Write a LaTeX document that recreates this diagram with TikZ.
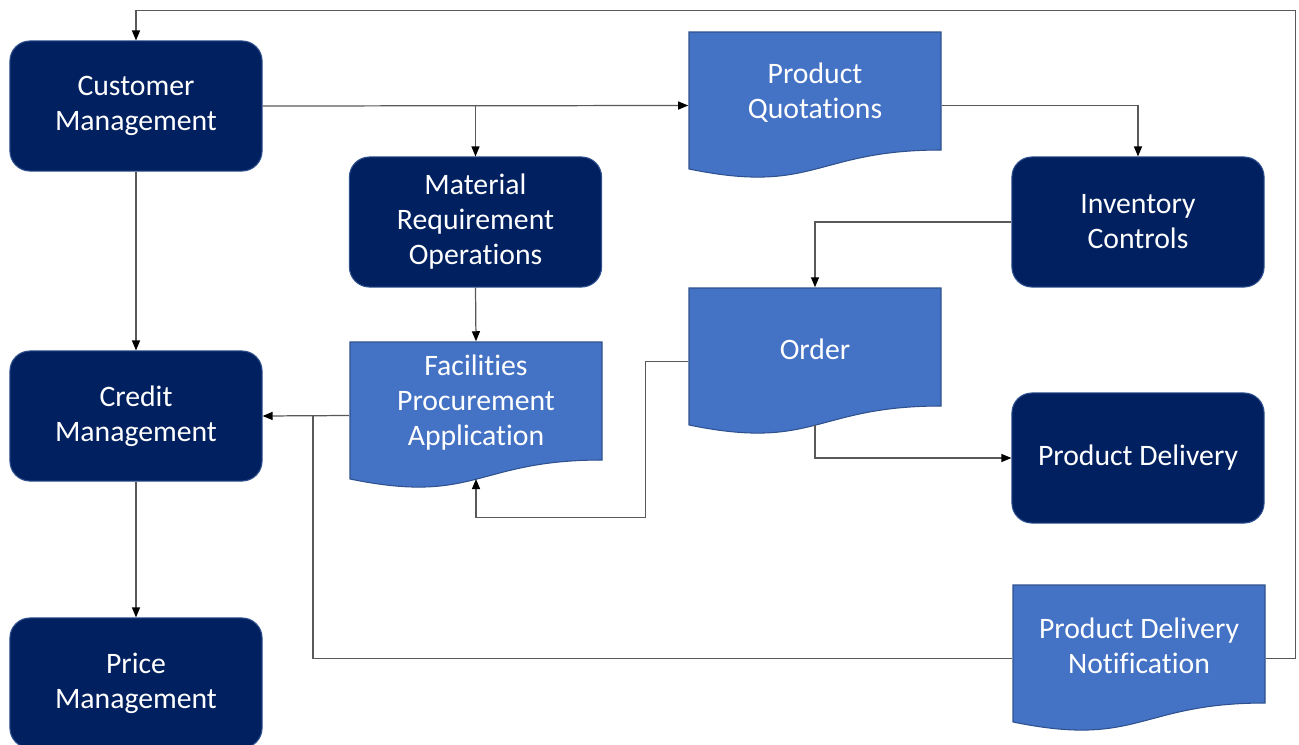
\documentclass[tikz,border=0pt]{standalone}
\usepackage{fontspec}
\setmainfont{Carlito}[Ligatures=NoCommon]
\usetikzlibrary{arrows.meta}

\definecolor{navy}{HTML}{002060}
\definecolor{docblue}{HTML}{4472C4}
\definecolor{edgeblue}{HTML}{2F528F}

\tikzset{
    boxfont/.style={text=white, align=center, font=\fontsize{8.45}{9.96}\selectfont},
    process/.style={boxfont, draw=edgeblue, fill=navy, line width=0.3pt, rounded corners=0.2cm,
        minimum width=2.52cm, minimum height=1.3cm, inner sep=0pt},
    docshape/.style={fill=docblue, draw=edgeblue, line width=0.3pt},
    docframe/.style={minimum width=2.52cm, minimum height=1.47cm, inner sep=0pt},
    wire/.style={draw=black!65, line width=0.35pt},
    link/.style={wire, -{Triangle[length=0.1cm, width=0.08cm, color=black]}}
}

% document symbol: name, top-left corner, text
\newcommand{\docnode}[3]{%
    \begin{scope}[shift={#2}]
        \path[docshape] (0,0) -- (252,0) -- (252,118)
            .. controls (126,118) and (126,163) .. (0,137) -- cycle;
        \node[docframe] (#1) at (126,73.5) {};
        \node[boxfont] (#1-t) at (126,61) {#3};
        \coordinate (#1-b) at (126,137);
    \end{scope}}

\begin{document}
\begin{tikzpicture}[x=0.01cm, y=-0.01cm]
    \useasboundingbox (0,0) rectangle (1299,745);

    % processes
    \node[process] (cust)   at (136,106)  {Customer\\Management};
    \node[process] (credit) at (136,416)  {Credit\\Management};
    \node[process] (price)  at (136,683)  {Price\\Management};
    \node[process] (mat)    at (475.5,222) {Material\\Requirement\\Operations};
    \node[process] (inv)    at (1138,222) {Inventory\\Controls};
    \node[process] (deliv)  at (1138,458) {Product Delivery};

    % documents
    \docnode{quote}{(689,32)}{Product\\Quotations}
    \docnode{fac}{(350,342)}{Facilities\\Procurement\\Application}
    \docnode{order}{(689,288)}{Order}
    \docnode{notif}{(1013,585)}{Product Delivery\\Notification}

    \coordinate (merge) at (313,415);

    % connectors
    \draw[link] (cust.east) -- (quote.west);
    \draw[link] (mat.north |- quote.west) -- (mat.north);
    \draw[link] (cust.south) -- (credit.north);
    \draw[link] (credit.south) -- (price.north);
    \draw[link] (quote.east) -| (inv.north);
    \draw[link] (inv.west) -| (order.north);
    \draw[link] (mat.south) -- (fac.north);
    \draw[link] (fac.west) -- (credit.east);
    \draw[link] (order.west) -- ++(-43,0) -- ++(0,156) -| (fac-b);
    \draw[link] (order-b) |- (deliv.west);
    \draw[wire] (notif.west) -| (merge);
    \draw[link] (notif.east) -- ++(30,0) -- ++(0,-648) -| (cust.north);
\end{tikzpicture}
\end{document}
